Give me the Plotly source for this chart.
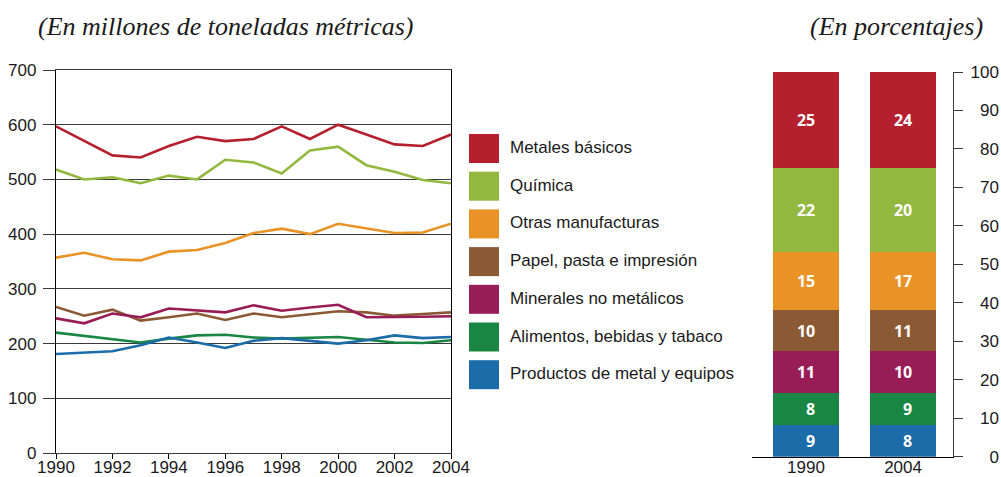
import plotly.graph_objects as go

years = list(range(1990, 2005))

sectors = [
    "Metales básicos",
    "Química",
    "Otras manufacturas",
    "Papel, pasta e impresión",
    "Minerales no metálicos",
    "Alimentos, bebidas y tabaco",
    "Productos de metal y equipos",
]
colors = ["#B51F2E", "#93B83F", "#E99226", "#8B5A35", "#981C55", "#1A8643", "#1B6CA8"]

# millones de toneladas métricas
metales = [597, 570, 544, 540, 561, 578, 570, 574, 597, 574, 600, 582, 564, 561, 582]
quimica = [518, 500, 504, 493, 507, 500, 536, 531, 511, 553, 560, 526, 514, 499, 493]
otras = [357, 366, 354, 352, 368, 371, 384, 402, 410, 400, 419, 410, 402, 403, 419]
papel = [267, 251, 262, 242, 248, 255, 243, 255, 248, 254, 259, 257, 251, 254, 257]
minerales = [246, 237, 255, 248, 264, 261, 257, 270, 260, 266, 271, 248, 248, 249, 250]
alimentos = [220, 214, 207, 202, 209, 215, 216, 211, 209, 210, 212, 207, 202, 201, 206]
productos = [181, 184, 186, 197, 211, 202, 192, 205, 210, 205, 200, 206, 215, 210, 212]
series = [metales, quimica, otras, papel, minerales, alimentos, productos]

# porcentajes (altura dibujada y etiqueta), mismo orden que sectors
bar_years = ["1990", "2004"]
heights_1990 = [24.9, 21.8, 15.2, 10.6, 11.0, 8.3, 8.2]
heights_2004 = [24.9, 21.8, 15.2, 10.6, 11.0, 8.3, 8.2]
labels_1990 = [25, 22, 15, 10, 11, 8, 9]
labels_2004 = [24, 20, 17, 11, 10, 9, 8]

W, H = 1001, 477
SANS = "Liberation Sans, Arial, sans-serif"
SERIF = "Liberation Serif, Times New Roman, serif"
GRID = "#3a3a3a"


def px(x):
    return x / W


def py(y):
    return 1 - y / H


fig = go.Figure()

for name, vals, col in zip(sectors, series, colors):
    fig.add_trace(go.Scatter(
        x=years, y=vals, mode="lines", name=name,
        line=dict(color=col, width=2.6), xaxis="x", yaxis="y",
        showlegend=False, hoverinfo="x+y+name",
    ))

# stacked bars, bottom segment first
for i in reversed(range(len(sectors))):
    txt = [str(labels_1990[i]).rjust(2, "\u2007"), str(labels_2004[i]).rjust(2, "\u2007")]
    fig.add_trace(go.Bar(
        x=bar_years, y=[heights_1990[i], heights_2004[i]], name=sectors[i],
        marker=dict(color=colors[i], line=dict(width=0)),
        width=0.68, text=txt, texttemplate="<b>%{text}</b>",
        textposition="inside", insidetextanchor="middle", textangle=0,
        textfont=dict(family="Open Sans, sans-serif", size=16, color="white"),
        xaxis="x2", yaxis="y2", showlegend=False,
    ))

# legend drawn by hand: big square swatches
step = 37.7
for i, (name, col) in enumerate(zip(sectors, colors)):
    top = 134 + i * step
    fig.add_shape(type="rect", xref="paper", yref="paper",
                  x0=px(469), x1=px(499), y0=py(top + 29), y1=py(top),
                  fillcolor=col, line=dict(width=0))
    fig.add_annotation(x=px(508), y=py(top + 13.5), xref="paper", yref="paper",
                       text=name, showarrow=False, xanchor="left", yanchor="middle",
                       font=dict(family=SANS, size=17, color="#1a1a1a"))

fig.add_annotation(x=px(226), y=py(27), xref="paper", yref="paper",
                   text="<i>(En millones de toneladas métricas)</i>", showarrow=False,
                   xanchor="center", yanchor="middle",
                   font=dict(family=SERIF, size=26, color="#1a1a1a"))
fig.add_annotation(x=px(896), y=py(27), xref="paper", yref="paper",
                   text="<i>(En porcentajes)</i>", showarrow=False,
                   xanchor="center", yanchor="middle",
                   font=dict(family=SERIF, size=26, color="#1a1a1a"))

pct_ticks = list(range(0, 101, 10))

fig.update_layout(
    width=W, height=H,
    margin=dict(l=0, r=0, t=0, b=0),
    paper_bgcolor="white", plot_bgcolor="white",
    font=dict(family=SANS, size=17, color="#1a1a1a"),
    barmode="stack",
    xaxis=dict(
        domain=[px(56), px(451)], range=[1990, 2004], anchor="y", automargin=False,
        tickvals=list(range(1990, 2005, 2)), ticks="outside", ticklen=5,
        tickcolor="black", showline=True, linecolor=GRID, linewidth=1.3,
        mirror=True, showgrid=False, zeroline=False, ticklabelstandoff=-7,
    ),
    yaxis=dict(
        domain=[py(453), py(70)], range=[0, 700], anchor="x", automargin=False,
        tickvals=list(range(0, 701, 100)), ticks="outside", ticklen=12,
        tickcolor=GRID, tickwidth=1.3, showgrid=True, gridcolor=GRID, gridwidth=1.3,
        showline=True, linecolor="black", linewidth=1.3, mirror=True, zeroline=False,
        ticklabelstandoff=3,
    ),
    xaxis2=dict(
        domain=[px(752), px(953)], range=[-0.557, 1.515], anchor="y2", type="category",
        automargin=False, ticklabelstandoff=-5,
        showline=True, linecolor="black", linewidth=1.3, ticks="", showgrid=False,
    ),
    yaxis2=dict(
        domain=[py(456.7), py(72)], range=[0, 100], anchor="x2", side="right",
        automargin=False,
        tickvals=pct_ticks, ticktext=[str(v).rjust(3, "\u2007") for v in pct_ticks],
        ticks="outside", ticklen=9, tickcolor=GRID, tickwidth=1.3,
        showline=True, linecolor=GRID, linewidth=1.3, showgrid=False, zeroline=False,
        ticklabelstandoff=4,
    ),
)

# drop the default 8px page margin so the figure fills the window
fig.write_html("out.html", config={"displayModeBar": False},
               post_script="document.body.style.margin='0';")
